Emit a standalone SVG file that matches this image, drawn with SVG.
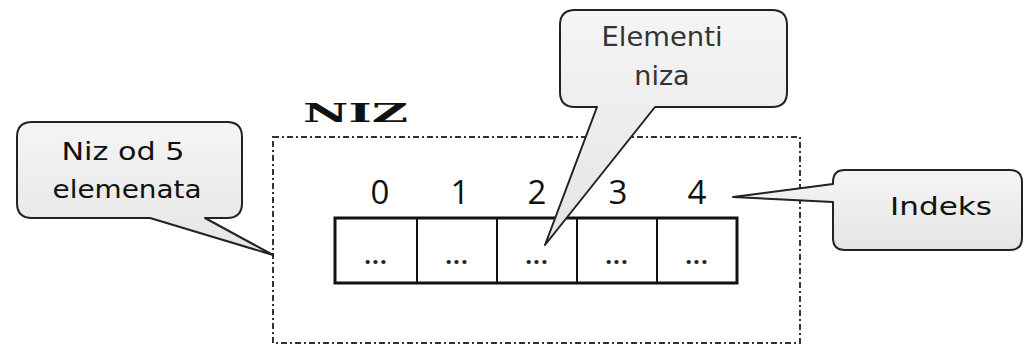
<svg xmlns="http://www.w3.org/2000/svg" width="1025" height="348" viewBox="0 0 1025 348">
<defs>
<linearGradient id="cg" x1="0" y1="0" x2="0" y2="1">
<stop offset="0" stop-color="#f5f5f5"/>
<stop offset="1" stop-color="#e4e4e4"/>
</linearGradient>
<style>
.callout{fill:url(#cg);stroke:#222;stroke-width:2;stroke-linejoin:round}
.ctext{font-family:"DejaVu Sans",sans-serif;font-size:25px;fill:#111;text-anchor:middle}
.etext{font-family:"DejaVu Sans",sans-serif;font-size:27px;fill:#333;text-anchor:middle}
.idx{font-family:"Open Sans",sans-serif;font-size:33px;fill:#111;text-anchor:middle}
.dots{font-family:"Open Sans",sans-serif;font-size:24px;font-weight:bold;fill:#222;text-anchor:middle;letter-spacing:1px}
.cell{fill:#fff;stroke:#111;stroke-width:2}
</style>
</defs>
<g id="frame">
<rect x="273" y="137" width="527" height="206" fill="none" stroke="#333" stroke-width="2" stroke-dasharray="6 3 2 3"/>
<text x="303" y="122" font-family="DejaVu Serif,serif" font-weight="bold" font-size="26" textLength="105" lengthAdjust="spacingAndGlyphs" fill="#111">NIZ</text>
</g>
<g id="array">
<rect class="cell" x="335" y="218" width="82" height="65"/>
<rect class="cell" x="417" y="218" width="80" height="65"/>
<rect class="cell" x="497" y="218" width="80" height="65"/>
<rect class="cell" x="577" y="218" width="80" height="65"/>
<rect class="cell" x="657" y="218" width="80" height="65"/>
<rect x="335" y="218" width="402" height="65" fill="none" stroke="#111" stroke-width="3"/>
<text class="dots" x="376" y="264">...</text>
<text class="dots" x="457" y="264">...</text>
<text class="dots" x="537" y="264">...</text>
<text class="dots" x="617" y="264">...</text>
<text class="dots" x="697" y="264">...</text>
<text class="idx" x="380" y="204">0</text>
<text class="idx" x="460" y="204">1</text>
<text class="idx" x="537" y="204">2</text>
<text class="idx" x="618" y="204">3</text>
<text class="idx" x="697" y="204">4</text>
</g>
<g id="connectors"></g>
<g id="callout-niz">
<path class="callout" d="M32,122 H227 Q242,122 242,137 V203 Q242,218 227,218 H205 L273,255 L150,218 H32 Q17,218 17,203 V137 Q17,122 32,122 Z"/>
<text class="ctext" x="123" y="160" textLength="123" lengthAdjust="spacingAndGlyphs">Niz od 5</text>
<text class="ctext" x="127" y="198" textLength="149" lengthAdjust="spacingAndGlyphs">elemenata</text>
</g>
<g id="callout-elementi">
<path class="callout" d="M575,10 H772 Q787,10 787,25 V92 Q787,107 772,107 H655 L545,245 L597,107 H575 Q560,107 560,92 V25 Q560,10 575,10 Z"/>
<text class="etext" x="662" y="46" textLength="121" lengthAdjust="spacingAndGlyphs">Elementi</text>
<text class="etext" x="662" y="85">niza</text>
</g>
<g id="callout-indeks">
<path class="callout" d="M845,170 H1010 Q1022,170 1022,182 V238 Q1022,250 1010,250 H845 Q833,250 833,238 V202 L733,197 L833,184 V182 Q833,170 845,170 Z"/>
<text class="ctext" x="941" y="215" textLength="102" lengthAdjust="spacingAndGlyphs">Indeks</text>
</g>
</svg>
